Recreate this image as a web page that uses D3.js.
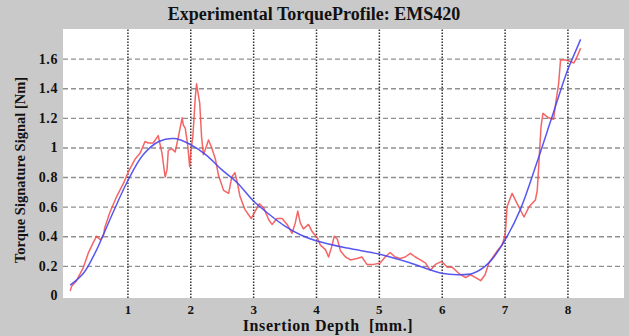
<!DOCTYPE html>
<html>
<head>
<meta charset="utf-8">
<script src="https://cdn.jsdelivr.net/npm/d3@7/dist/d3.min.js"></script>
<style>
  body { margin: 0; background: #c9c9c9; }
  svg { display: block; }
  text { font-family: "Liberation Serif", "Times New Roman", serif; font-weight: bold; fill: #111; }
</style>
</head>
<body>
<div id="app"></div>
<script>
// measured torque (red) and fitted profile (blue)
const rawDepth = [0.09,0.11,0.19,0.30,0.38,0.46,0.51,0.57,0.62,0.64,0.72,0.83,0.94,1.02,1.12,1.20,1.28,1.33,1.41,1.49,
  1.55,1.60,1.63,1.65,1.71,1.76,1.81,1.87,1.89,1.92,1.96,1.99,2.01,2.04,2.08,2.10,2.15,2.18,2.21,2.25,
  2.29,2.34,2.40,2.45,2.53,2.61,2.66,2.71,2.75,2.79,2.87,2.97,3.06,3.10,3.17,3.25,3.30,3.38,3.46,3.54,
  3.62,3.67,3.71,3.75,3.80,3.88,3.94,4.02,4.07,4.15,4.20,4.25,4.29,4.34,4.39,4.47,4.55,4.65,4.73,4.81,
  4.92,5.02,5.10,5.18,5.26,5.34,5.42,5.50,5.58,5.66,5.74,5.82,5.90,6.00,6.09,6.17,6.27,6.38,6.46,6.54,
  6.62,6.69,6.75,6.80,6.88,6.96,7.01,7.04,7.12,7.20,7.31,7.39,7.49,7.52,7.54,7.58,7.61,7.70,7.78,7.81,
  7.86,7.89,7.97,8.05,8.10,8.14,8.21];
const rawTorque = [0.03,0.06,0.10,0.19,0.29,0.36,0.40,0.375,0.41,0.46,0.56,0.67,0.76,0.84,0.92,0.96,1.04,1.03,1.03,1.08,
  0.96,0.80,0.85,0.98,0.99,0.97,1.07,1.20,1.15,1.13,1.01,0.87,0.98,1.07,1.34,1.43,1.30,1.07,0.95,1.00,
  1.05,1.00,0.92,0.81,0.71,0.69,0.80,0.83,0.76,0.67,0.58,0.52,0.59,0.62,0.59,0.51,0.48,0.52,0.52,0.48,
  0.42,0.49,0.57,0.49,0.45,0.48,0.43,0.39,0.34,0.31,0.26,0.33,0.40,0.38,0.30,0.26,0.24,0.25,0.26,0.21,
  0.21,0.22,0.26,0.29,0.26,0.25,0.26,0.285,0.26,0.24,0.22,0.17,0.21,0.23,0.19,0.19,0.15,0.12,0.14,0.12,
  0.10,0.14,0.22,0.25,0.30,0.34,0.41,0.60,0.69,0.62,0.53,0.60,0.645,0.71,0.85,1.14,1.23,1.20,1.19,1.29,
  1.43,1.59,1.59,1.58,1.57,1.60,1.67];

const fitDepth = [0.09,0.3,0.5,0.75,1.0,1.25,1.5,1.75,2.0,2.25,2.5,2.75,3.0,3.25,3.5,3.75,4.0,4.5,5.0,5.5,
  6.0,6.25,6.5,6.75,7.0,7.25,7.5,7.75,8.0,8.1,8.21];
const fitTorque = [0.07,0.15,0.30,0.54,0.77,0.95,1.04,1.06,1.02,0.95,0.85,0.76,0.64,0.55,0.47,0.41,0.37,0.32,0.28,0.22,
  0.15,0.14,0.15,0.22,0.37,0.58,0.88,1.2,1.52,1.62,1.73];

const xTicks = [1, 2, 3, 4, 5, 6, 7, 8];
const yTicks = [0, 0.2, 0.4, 0.6, 0.8, 1, 1.2, 1.4, 1.6];

const width = 629;
const height = 336;
const plot = { left: 63, right: 624, top: 29, bottom: 298 };

const svg = d3.select('#app')
  .append('svg')
  .attr('width', width)
  .attr('height', height);

svg.append('rect')
  .attr('width', width).attr('height', height)
  .attr('fill', '#c9c9c9');

const x = d3.scaleLinear().domain([-0.025, 8.9]).range([plot.left, plot.right]);
const y = d3.scaleLinear().domain([-0.017, 1.8]).range([plot.bottom, plot.top]);

svg.append('rect')
  .attr('x', plot.left).attr('y', plot.top)
  .attr('width', plot.right - plot.left)
  .attr('height', plot.bottom - plot.top)
  .attr('fill', '#fff');

svg.append('clipPath').attr('id', 'clip')
  .append('rect')
  .attr('x', plot.left).attr('y', plot.top)
  .attr('width', plot.right - plot.left)
  .attr('height', plot.bottom - plot.top);

// grid
const yGrid = d3.axisLeft(y).tickValues(yTicks.filter(d => d > 0))
  .tickSize(-(plot.right - plot.left)).tickFormat('');
svg.append('g')
  .attr('transform', `translate(${plot.left},0)`)
  .call(yGrid)
  .call(g => g.select('.domain').remove())
  .call(g => g.selectAll('line')
    .attr('stroke', '#909090')
    .attr('stroke-width', 1.4)
    .attr('stroke-dasharray', '5,3'));

const xGrid = d3.axisBottom(x).tickValues(xTicks)
  .tickSize(-(plot.bottom - plot.top)).tickFormat('');
svg.append('g')
  .attr('transform', `translate(0,${plot.bottom})`)
  .call(xGrid)
  .call(g => g.select('.domain').remove())
  .call(g => g.selectAll('line')
    .attr('stroke', '#333')
    .attr('stroke-width', 1.5)
    .attr('stroke-dasharray', '1.5,1.5'));

// lines
const lines = svg.append('g').attr('clip-path', 'url(#clip)');

const rawLine = d3.line()
  .x((d, i) => x(rawDepth[i]))
  .y(d => y(d));

lines.append('path')
  .datum(rawTorque)
  .attr('fill', 'none')
  .attr('stroke', '#f24a4a')
  .attr('stroke-opacity', 0.85)
  .attr('stroke-width', 1.5)
  .attr('stroke-linejoin', 'round')
  .attr('d', rawLine);

const fitLine = d3.line()
  .x((d, i) => x(fitDepth[i]))
  .y(d => y(d))
  .curve(d3.curveCatmullRom);

lines.append('path')
  .datum(fitTorque)
  .attr('fill', 'none')
  .attr('stroke', '#4646f0')
  .attr('stroke-opacity', 0.9)
  .attr('stroke-width', 1.5)
  .attr('d', fitLine);

// axes labels
const xAxis = d3.axisBottom(x).tickValues(xTicks).tickSize(0).tickPadding(7).tickFormat(d3.format('d'));
svg.append('g')
  .attr('transform', `translate(0,${plot.bottom})`)
  .call(xAxis)
  .call(g => g.select('.domain').remove())
  .call(g => g.selectAll('text')
    .attr('font-size', 13)
    .attr('font-family', null)
    .attr('fill', '#111'));

const yAxis = d3.axisLeft(y).tickValues(yTicks).tickSize(0).tickPadding(5).tickFormat(d => d);
svg.append('g')
  .attr('transform', `translate(${plot.left},0)`)
  .call(yAxis)
  .call(g => g.select('.domain').remove())
  .call(g => g.selectAll('text')
    .attr('font-size', 14)
    .attr('font-family', null)
    .attr('letter-spacing', 0.6)
    .attr('fill', '#111'));

svg.append('text')
  .attr('x', 314).attr('y', 20)
  .attr('text-anchor', 'middle')
  .attr('font-size', 18)
  .text('Experimental TorqueProfile: EMS420');

svg.append('text')
  .attr('x', 328).attr('y', 331)
  .attr('text-anchor', 'middle')
  .attr('font-size', 16)
  .attr('letter-spacing', 0.6)
  .style('white-space', 'pre')
  .text('Insertion Depth  [mm.]');

svg.append('text')
  .attr('transform', 'translate(25,170) rotate(-90)')
  .attr('text-anchor', 'middle')
  .attr('font-size', 14.5)
  .text('Torque Signature Signal [Nm]');
</script>
</body>
</html>
